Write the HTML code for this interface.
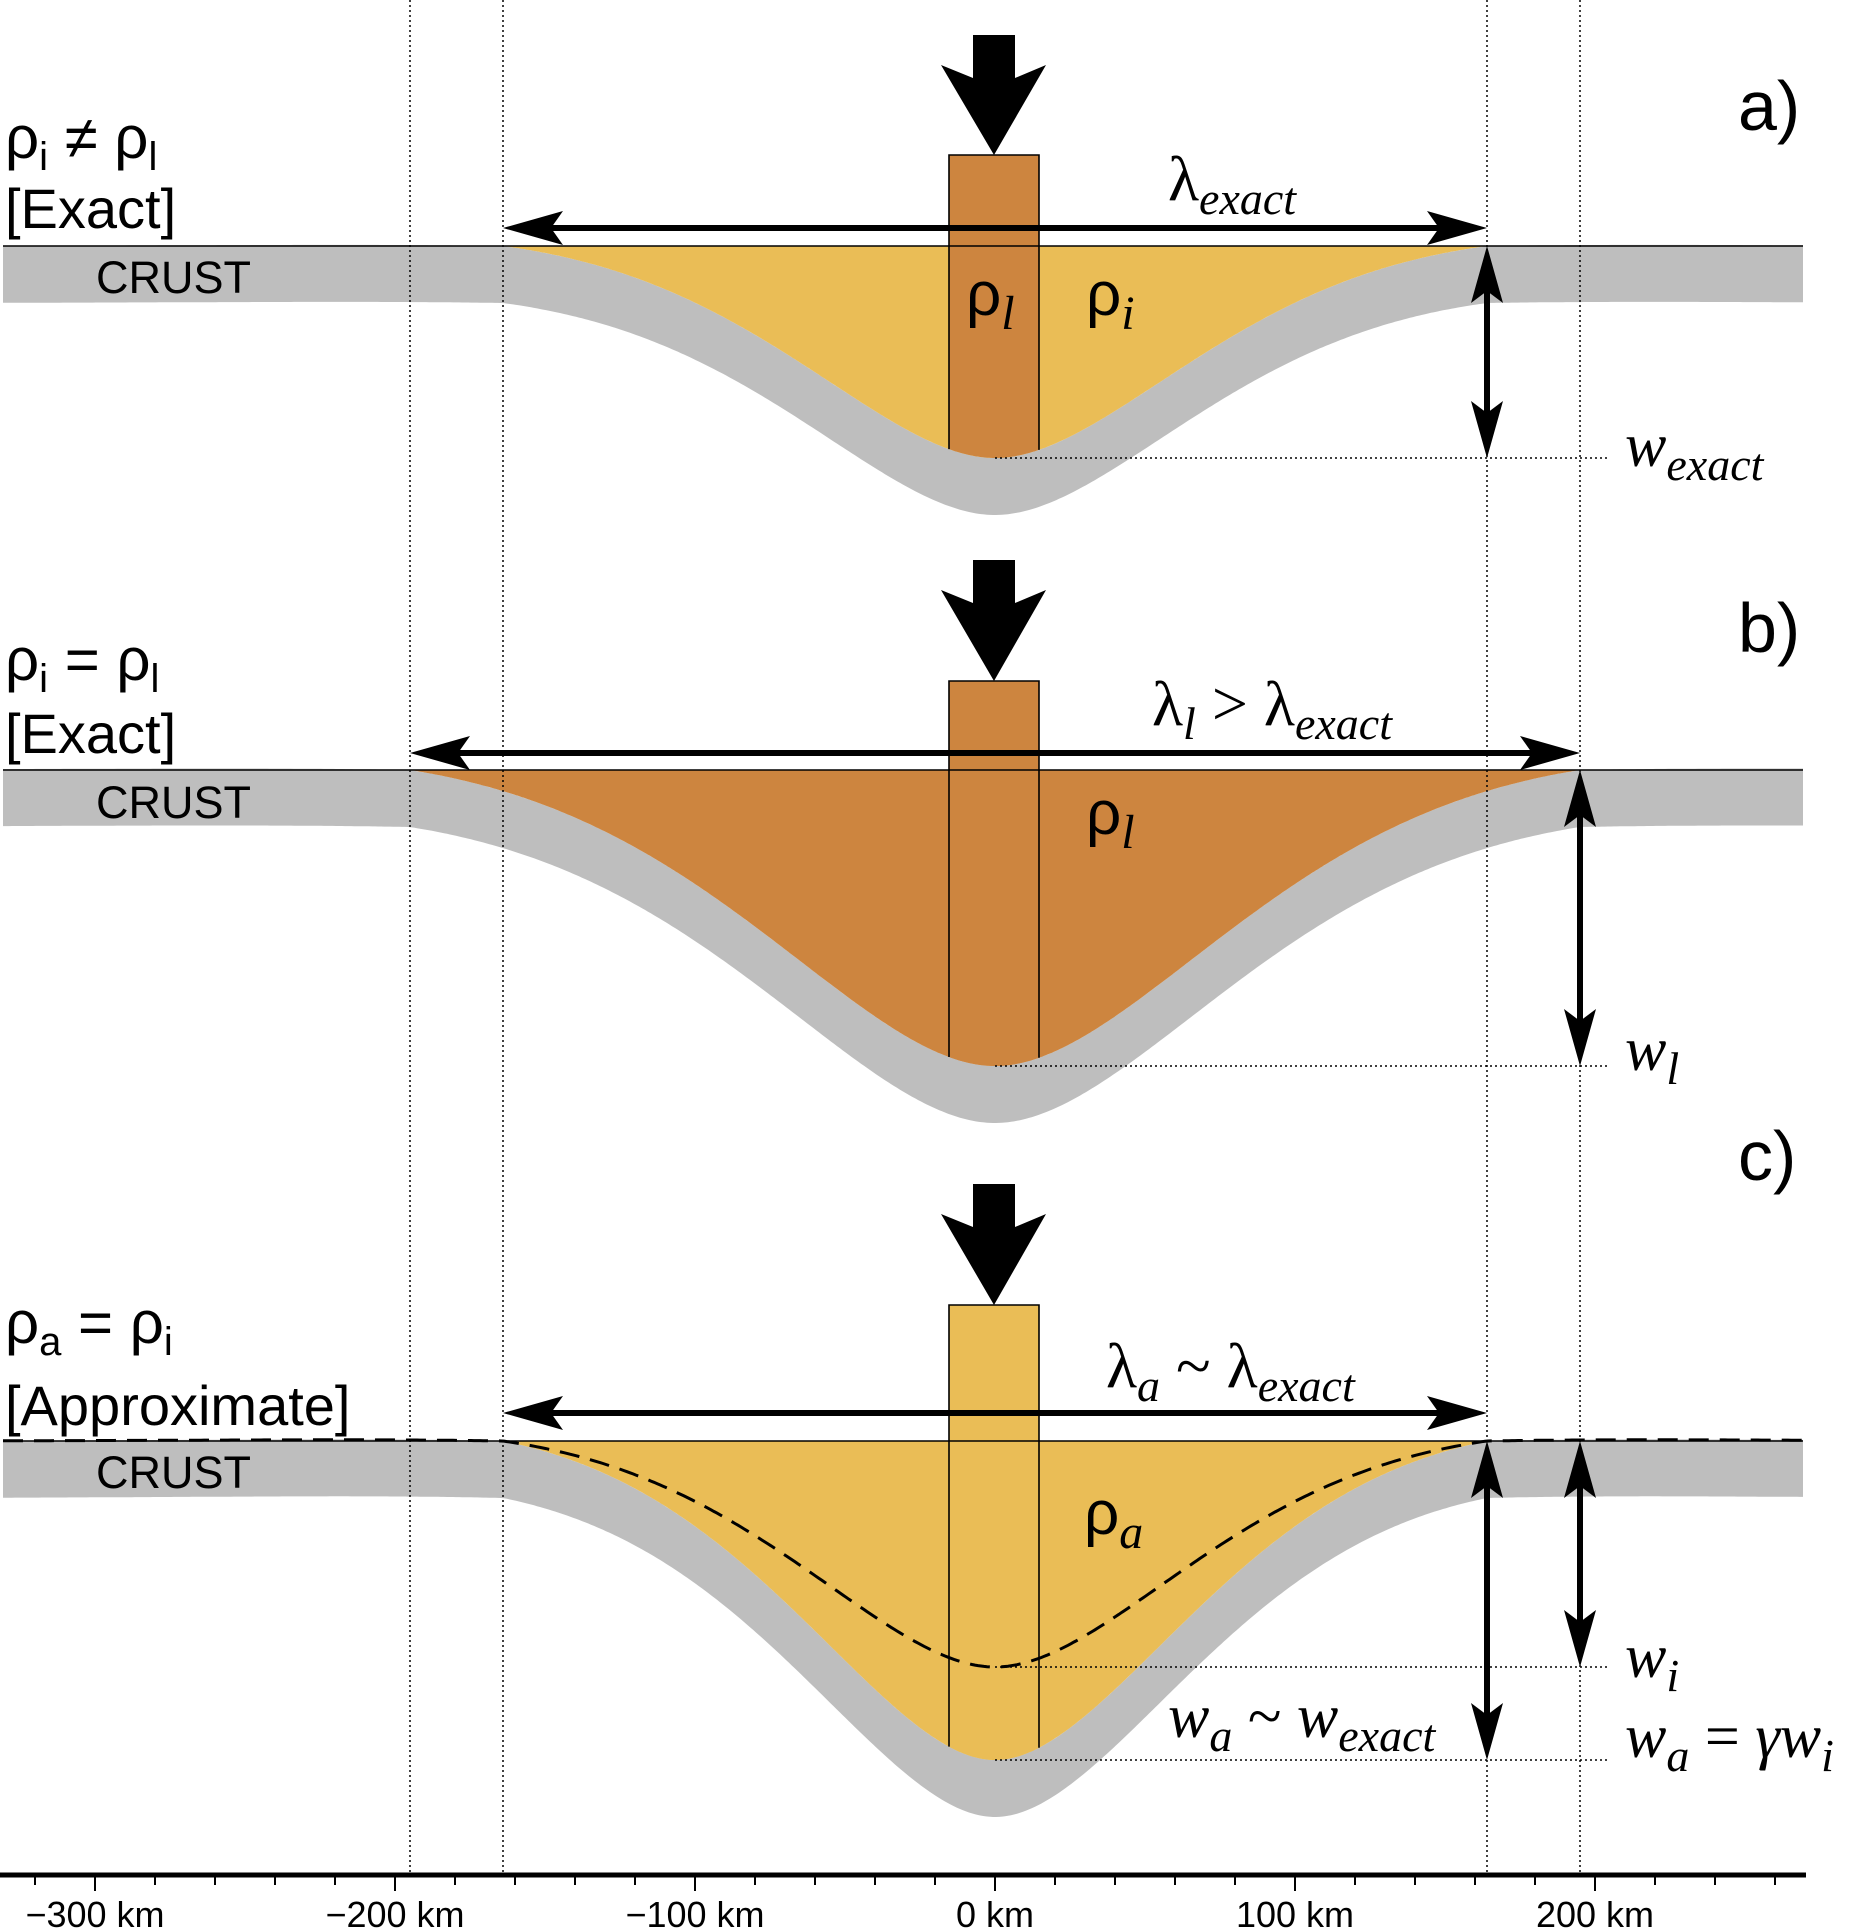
<!DOCTYPE html>
<html><head><meta charset="utf-8">
<style>
html,body{margin:0;padding:0;background:#fff;}
svg{display:block;}
.sans{font-family:"Liberation Sans",sans-serif;}
.ser{font-family:"Liberation Serif",serif;font-style:italic;}
</style></head>
<body>
<svg id="s" width="1855" height="1930" viewBox="0 0 1855 1930" xmlns="http://www.w3.org/2000/svg">
<g id="g"></g>
<g class="sans" fill="#000">
<text x="5" y="158" font-size="60">ρ<tspan font-size="40" dy="12">i</tspan><tspan dy="-12"> ≠ ρ</tspan><tspan font-size="40" dy="12">l</tspan></text>
<text x="5" y="228" font-size="56">[Exact]</text>
<text x="96" y="293" font-size="45">CRUST</text>
<text x="1738" y="130" font-size="70">a)</text>

<text x="5" y="680" font-size="60">ρ<tspan font-size="40" dy="12">i</tspan><tspan dy="-12"> = ρ</tspan><tspan font-size="40" dy="12">l</tspan></text>
<text x="5" y="753" font-size="56">[Exact]</text>
<text x="96" y="818" font-size="45">CRUST</text>
<text x="1738" y="652" font-size="70">b)</text>

<text x="5" y="1343" font-size="60">ρ<tspan font-size="40" dy="12">a</tspan><tspan dy="-12"> = ρ</tspan><tspan font-size="40" dy="12">i</tspan></text>
<text x="5" y="1425" font-size="56">[Approximate]</text>
<text x="96" y="1488" font-size="45">CRUST</text>
<text x="1738" y="1180" font-size="70">c)</text>
</g>
<g fill="#000">
<text x="1168" y="200" font-family="Liberation Serif,serif" font-size="64">λ<tspan class="ser" font-size="46" dy="14">exact</tspan></text>
<text x="966" y="315" class="sans" font-size="62">ρ<tspan class="ser" font-size="48" dy="14">l</tspan></text>
<text x="1086" y="315" class="sans" font-size="62">ρ<tspan class="ser" font-size="48" dy="14">i</tspan></text>
<text x="1625" y="466" class="ser" font-size="62">w<tspan font-size="46" dy="14">exact</tspan></text>

<text x="1152" y="725" font-family="Liberation Serif,serif" font-size="64">λ<tspan class="ser" font-size="46" dy="14">l</tspan><tspan dy="-14"> &gt; λ</tspan><tspan class="ser" font-size="46" dy="14">exact</tspan></text>
<text x="1086" y="834" class="sans" font-size="62">ρ<tspan class="ser" font-size="48" dy="14">l</tspan></text>
<text x="1625" y="1070" class="ser" font-size="62">w<tspan font-size="46" dy="14">l</tspan></text>

<text x="1106" y="1387" font-family="Liberation Serif,serif" font-size="64">λ<tspan class="ser" font-size="46" dy="14">a</tspan><tspan dy="-14"> ~ λ</tspan><tspan class="ser" font-size="46" dy="14">exact</tspan></text>
<text x="1084" y="1534" class="sans" font-size="62">ρ<tspan class="ser" font-size="48" dy="14">a</tspan></text>
<text x="1625" y="1677" class="ser" font-size="62">w<tspan font-size="46" dy="14">i</tspan></text>
<text x="1625" y="1757" class="ser" font-size="62">w<tspan font-size="46" dy="14">a</tspan><tspan dy="-14" font-style="normal"> = </tspan>γw<tspan font-size="46" dy="14">i</tspan></text>
<text x="1168" y="1737" class="ser" font-size="62">w<tspan font-size="46" dy="14">a</tspan><tspan dy="-14" font-style="normal"> ~ </tspan>w<tspan font-size="46" dy="14">exact</tspan></text>
</g>
<g class="sans" font-size="36" text-anchor="middle" fill="#000">
<text x="95" y="1927">−300 km</text>
<text x="395" y="1927">−200 km</text>
<text x="695" y="1927">−100 km</text>
<text x="995" y="1927">0 km</text>
<text x="1295" y="1927">100 km</text>
<text x="1595" y="1927">200 km</text>
</g>
</svg>
<script>
(function(){
var g=document.getElementById('g');
var CX=995,X0=3,X1=1803,GRAY='#bebebe',YEL='#eabd56',OR='#cd853f';
var h='';
function w(x,alpha,d){var u=Math.abs(x-CX)/alpha;var v=d*Math.exp(-u)*(Math.cos(u)+Math.sin(u));if(v<0)v*=0.12;return v;}
function curve(y0,alpha,d,a,b,step){var p=[];for(var x=a;x<=b+0.01;x+=step){p.push([x,y0+w(x,alpha,d)]);}return p;}
function pts(p){return p.map(function(q){return q[0].toFixed(1)+','+q[1].toFixed(1);}).join(' ');}
function harrow(x1,x2,y){var L=60,H=17,N=12;
 h+='<line x1="'+(x1+L-N)+'" y1="'+y+'" x2="'+(x2-L+N)+'" y2="'+y+'" stroke="#000" stroke-width="6"/>';
 h+='<polygon points="'+x2+','+y+' '+(x2-L)+','+(y-H)+' '+(x2-L+N)+','+y+' '+(x2-L)+','+(y+H)+'"/>';
 h+='<polygon points="'+x1+','+y+' '+(x1+L)+','+(y-H)+' '+(x1+L-N)+','+y+' '+(x1+L)+','+(y+H)+'"/>';}
function varrow(x,y1,y2){var L=57,H=16,N=12;
 h+='<line x1="'+x+'" y1="'+(y1+L-N)+'" x2="'+x+'" y2="'+(y2-L+N)+'" stroke="#000" stroke-width="6"/>';
 h+='<polygon points="'+x+','+y1+' '+(x-H)+','+(y1+L)+' '+x+','+(y1+L-N)+' '+(x+H)+','+(y1+L)+'"/>';
 h+='<polygon points="'+x+','+y2+' '+(x-H)+','+(y2-L)+' '+x+','+(y2-L+N)+' '+(x+H)+','+(y2-L)+'"/>';}
function load(top,tip){
 var wing=top+30,notch=top+43;
 h+='<polygon points="973,'+top+' 1015,'+top+' 1015,'+notch+' 1046,'+wing+' 994,'+tip+' 941,'+wing+' 973,'+notch+'"/>';}
function panel(y0,alpha,d,fill,boxfill,boxTop,shaftTop,dash){
 var c=curve(y0,alpha,d,X0,X1,3);
 var bot=c.map(function(q){return [q[0],q[1]+57];}).reverse();
 h+='<polygon fill="'+GRAY+'" points="'+pts(c.concat(bot))+'"/>';
 var x0=CX-3*Math.PI/4*alpha,x1=CX+3*Math.PI/4*alpha;
 var b=curve(y0,alpha,d,x0,x1,2);
 h+='<polygon fill="'+fill+'" points="'+x0+','+y0+' '+pts(b)+' '+x1+','+y0+'"/>';
 var yl=y0+w(949,alpha,d),yr=y0+w(1039,alpha,d);
 var bc=curve(y0,alpha,d,949,1039,2).reverse();
 h+='<polygon fill="'+boxfill+'" points="949,'+boxTop+' 1039,'+boxTop+' '+pts(bc)+'"/>';
 h+='<polyline fill="none" stroke="#000" stroke-width="1.6" points="949,'+yl+' 949,'+boxTop+' 1039,'+boxTop+' 1039,'+yr+'"/>';
 h+='<line x1="'+X0+'" y1="'+y0+'" x2="'+X1+'" y2="'+y0+'" stroke="#000" stroke-width="1.6"/>';
 if(dash){var dc=curve(y0,alpha,dash,X0,X1,3);h+='<polyline fill="none" stroke="#000" stroke-width="3" stroke-dasharray="20,11" points="'+pts(dc)+'"/>';}
 load(shaftTop,boxTop);
}
var aA=492*4/(3*Math.PI),aB=585*4/(3*Math.PI);
panel(246,aA,212,YEL,OR,155,35,0);
panel(770,aB,296,OR,OR,681,560,0);
panel(1441,aA,319,YEL,YEL,1305,1184,226);
[410,503,1487,1580].forEach(function(x){h+='<line x1="'+x+'" y1="0" x2="'+x+'" y2="1873" stroke="#000" stroke-width="1.5" stroke-dasharray="2,3"/>';});
[458,1066,1667,1760].forEach(function(y){h+='<line x1="995" y1="'+y+'" x2="1608" y2="'+y+'" stroke="#000" stroke-width="1.5" stroke-dasharray="2,3"/>';});
harrow(503,1487,228);varrow(1487,246,458);
harrow(410,1580,753);varrow(1580,770,1066);
harrow(503,1487,1413);varrow(1487,1441,1760);varrow(1580,1441,1667);
h+='<line x1="0" y1="1875" x2="1806" y2="1875" stroke="#000" stroke-width="5"/>';
for(var k=-320;k<=270;k+=20){var x=CX+3*k;if(x<0||x>1806)continue;var L=(k%100===0)?14:8;h+='<line x1="'+x+'" y1="1877" x2="'+x+'" y2="'+(1877+L)+'" stroke="#000" stroke-width="2"/>';}
g.innerHTML=h;
})();
</script>
</body></html>
